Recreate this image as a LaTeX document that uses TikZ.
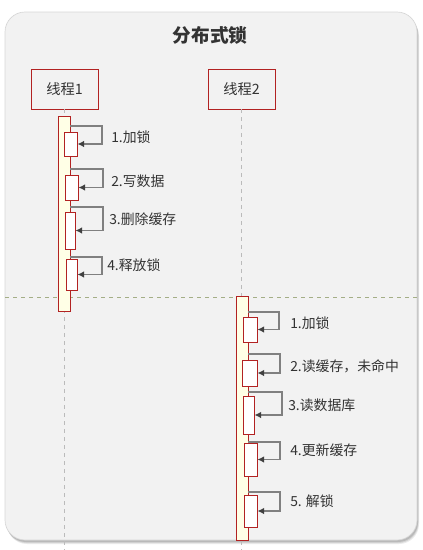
\documentclass[tikz,border=0pt]{standalone}
\usepackage{fontspec}
\setmainfont{Noto Sans CJK SC}
\usetikzlibrary{arrows.meta}
\definecolor{panelbg}{HTML}{F2F2F2}
\definecolor{boxred}{HTML}{B22222}
\definecolor{barfill}{HTML}{FFFFE6}
\definecolor{txt}{HTML}{333333}
\definecolor{lifegray}{HTML}{BBBBBB}
\definecolor{sepgreen}{HTML}{A4AE86}
\definecolor{arrgray}{HTML}{808080}
\definecolor{tipgray}{HTML}{404040}
\begin{document}
\begin{tikzpicture}[x=0.75pt,y=-0.75pt,
  pxsize/.style 2 args={minimum width=#1*0.75pt, minimum height=#2*0.75pt},
  thread/.style={draw=boxred, fill=panelbg, line width=0.7pt, inner sep=0pt, text=txt, font=\fontsize{10.7}{12}\selectfont},
  actbar/.style={draw=boxred, fill=barfill, line width=0.7pt, inner sep=0pt},
  subact/.style={draw=boxred, fill=white, line width=0.7pt, inner sep=0pt},
  lifeline/.style={draw=lifegray, dashed, line width=0.6pt},
  selfarrow/.style={draw=arrgray, line width=1pt, -{Latex[length=5pt,width=5pt,color=tipgray]}},
  lbl/.style={anchor=west, text=txt, inner sep=0pt, font=\fontsize{10.4}{12}\selectfont}]
\useasboundingbox (0,0) rectangle (423,550);
% panel shadow and panel
\foreach \o/\op in {4/0.08,3/0.1,2/0.12}{
  \fill[black, opacity=\op, rounded corners=15pt] (5+\o*0.5,12+\o) rectangle (417+\o*0.5,540+\o);
}
\filldraw[fill=panelbg, draw=lifegray!60, line width=0.5pt, rounded corners=15pt] (5,12) rectangle (417,540);
\node[font=\bfseries\fontsize{14}{16}\selectfont, text=txt] (title) at (210,35) {分布式锁};
% separator
\coordinate (sepL) at (5,297);
\coordinate (sepR) at (417,297);
\draw[draw=sepgreen, dashed, line width=0.6pt] (sepL) -- (sepR);
% threads
\node[thread, pxsize={67}{40}] (t1) at (64.5,89) {线程1};
\node[thread, pxsize={67}{40}] (t2) at (241.5,89) {线程2};
\coordinate (e1) at (64.5,550);
\coordinate (e2) at (241.5,550);
\draw[lifeline] (t1.south) -- (e1);
\draw[lifeline] (t2.south) -- (e2);
% activation bars
\node[actbar, pxsize={12}{195}] (bar1) at (64,213.5) {};
\node[actbar, pxsize={12}{244}] (bar2) at (242,418) {};
% sub activations thread 1
\node[subact, pxsize={13}{24}] (b11) at (70.5,144) {};
\node[subact, pxsize={13}{25}] (b12) at (71.5,187.5) {};
\node[subact, pxsize={10}{37}] (b13) at (70,230.5) {};
\node[subact, pxsize={11}{31}] (b14) at (71.5,274.5) {};
% sub activations thread 2
\node[subact, pxsize={14}{25}] (b21) at (250,329.5) {};
\node[subact, pxsize={15}{26}] (b22) at (249.5,373) {};
\node[subact, pxsize={11}{38}] (b23) at (248.5,415) {};
\node[subact, pxsize={13}{33}] (b24) at (250.5,459.5) {};
\node[subact, pxsize={13}{32}] (b25) at (250.5,511) {};
% self arrows thread 1
\coordinate (s11) at (70,126);
\coordinate (s12) at (70,169);
\coordinate (s13) at (70,207);
\coordinate (s14) at (70,257);
\draw[selfarrow] (s11) -- (102,126) |- (b11.east);
\draw[selfarrow] (s12) -- (103,169) |- (b12.east);
\draw[selfarrow] (s13) -- (103,207) |- (b13.east);
\draw[selfarrow] (s14) -- (102,257) |- (b14.east);
% self arrows thread 2
\coordinate (s21) at (248,312);
\coordinate (s22) at (248,354);
\coordinate (s23) at (248,392);
\coordinate (s24) at (248,442);
\coordinate (s25) at (248,492);
\draw[selfarrow] (s21) -- (279,312) |- (b21.east);
\draw[selfarrow] (s22) -- (280,354) |- (b22.east);
\draw[selfarrow] (s23) -- (282,392) |- (b23.east);
\draw[selfarrow] (s24) -- (280,442) |- (b24.east);
\draw[selfarrow] (s25) -- (280,492) |- (b25.east);
% labels
\node[lbl] (l11) at (111,137) {1.加锁};
\node[lbl] (l12) at (111,181) {2.写数据};
\node[lbl] (l13) at (109,219) {3.删除缓存};
\node[lbl] (l14) at (107,265) {4.释放锁};
\node[lbl] (l21) at (290,323) {1.加锁};
\node[lbl] (l22) at (290,366) {2.读缓存，未命中};
\node[lbl] (l23) at (288,405) {3.读数据库};
\node[lbl] (l24) at (290,450) {4.更新缓存};
\node[lbl] (l25) at (290,501) {5. 解锁};
\end{tikzpicture}
\end{document}
